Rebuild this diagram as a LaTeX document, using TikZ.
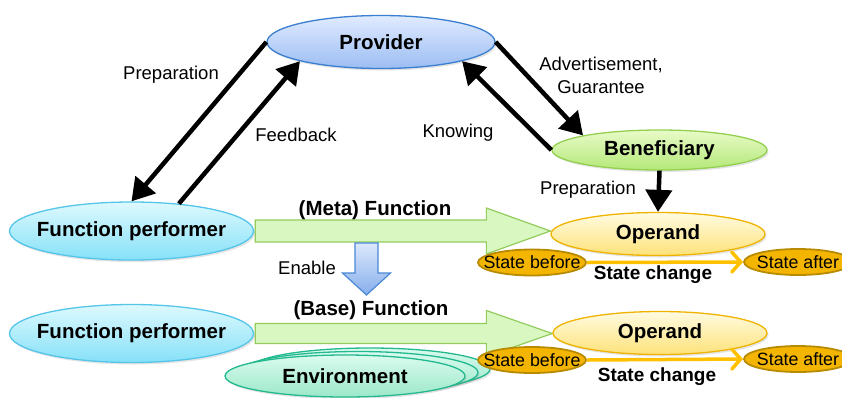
\documentclass[tikz,border=0pt]{standalone}
\usepackage{fontspec}
\setmainfont{Liberation Sans}
\usetikzlibrary{shapes.geometric,arrows.meta,shadows,calc}

\definecolor{provTop}{HTML}{E0EBFF}
\definecolor{provBot}{HTML}{9CBDF2}
\definecolor{provLine}{HTML}{3A7FD0}
\definecolor{benTop}{HTML}{E8FBC8}
\definecolor{benBot}{HTML}{B4E878}
\definecolor{benLine}{HTML}{94D050}
\definecolor{fpTop}{HTML}{DDF9FE}
\definecolor{fpBot}{HTML}{86E1F8}
\definecolor{fpLine}{HTML}{55C5EA}
\definecolor{opTop}{HTML}{FFFBE2}
\definecolor{opBot}{HTML}{FDE27A}
\definecolor{opLine}{HTML}{F0B400}
\definecolor{envTop}{HTML}{DAFBEF}
\definecolor{envBot}{HTML}{9CE8C9}
\definecolor{envLine}{HTML}{23B98F}
\definecolor{stFill}{HTML}{F4B500}
\definecolor{stLine}{HTML}{B88A00}
\definecolor{scArrow}{HTML}{FFC000}
\definecolor{funFill}{HTML}{D9F7C0}
\definecolor{funLine}{HTML}{93CC5C}
\definecolor{enTop}{HTML}{DCE8FC}
\definecolor{enBot}{HTML}{86AEEC}
\definecolor{enLine}{HTML}{4A88D6}

\pgfdeclarelayer{back}
\pgfsetlayers{back,main}

\tikzset{
  blob/.style={ellipse, inner xsep=-45pt, inner ysep=-6pt, line width=1.3pt,
    font=\fontsize{20.5}{24}\selectfont\bfseries,
    drop shadow={shadow xshift=1.5pt, shadow yshift=-2pt, opacity=0.22}},
  provider/.style={blob, draw=provLine, top color=provTop, bottom color=provBot},
  benef/.style={blob, draw=benLine, top color=benTop, bottom color=benBot},
  performer/.style={blob, draw=fpLine, top color=fpTop, bottom color=fpBot},
  operand/.style={blob, draw=opLine, top color=opTop, bottom color=opBot},
  envir/.style={blob, draw=envLine, top color=envTop, bottom color=envBot},
  statenode/.style={ellipse, inner xsep=-45pt, inner ysep=-6pt, line width=1.8pt,
    draw=stLine, fill=stFill, font=\fontsize{17.8}{20}\selectfont,
    minimum width=108pt, minimum height=26pt},
  conn/.style={line width=4.5pt, -{Triangle[length=22pt,width=26pt]}},
  scarrow/.style={draw=scArrow, line width=3.5pt,
    -{Straight Barb[length=9pt,width=20pt,line cap=round]}},
  funarrow/.style={draw=funLine, fill=funFill, line width=1.2pt, line join=miter},
  enarrow/.style={draw=enLine, top color=enTop, bottom color=enBot, line width=1.2pt},
  lbl/.style={font=\fontsize{18.5}{23}\selectfont, inner sep=0pt, align=center},
  blbl/.style={font=\fontsize{20.5}{24}\selectfont\bfseries, inner sep=0pt},
  sclbl/.style={font=\fontsize{19}{23}\selectfont\bfseries, inner sep=0pt}
}

\begin{document}
\begin{tikzpicture}[x=1pt,y=-1pt]
\useasboundingbox (0,0) rectangle (842,397);
\clip (0,0) rectangle (842,397);

% upper level: provider and beneficiary
\node[provider, minimum width=228pt, minimum height=53pt] (prov) at (381,42) {Provider};
\node[benef, minimum width=215pt, minimum height=40pt] (ben) at (659.5,150) {Beneficiary};

% meta level
\node[performer, minimum width=244pt, minimum height=58pt] (fp1) at (131.5,231) {Function performer};
\node[operand, minimum width=214pt, minimum height=43pt] (op1) at (658,234) {Operand};
\node[statenode] (sb1) at (532,262.5) {State before};
\node[statenode] (sa1) at (798,262) {State after};

% base level
\node[performer, minimum width=244pt, minimum height=58pt] (fp2) at (131.5,333.5) {Function performer};
\node[operand, minimum width=214pt, minimum height=43pt] (op2) at (660,333) {Operand};
\node[envir, minimum width=240pt, minimum height=42pt] (env3) at (370,369) {};
\node[envir, minimum width=240pt, minimum height=42pt] (env2) at (358,372.5) {};
\node[envir, minimum width=240pt, minimum height=42pt] (env1) at (345,376) {Environment};
\node[statenode] (sb2) at (532,360) {State before};
\node[statenode] (sa2) at (798,359) {State after};

% block arrows for the two functions, behind the ellipses
\begin{pgfonlayer}{back}
  \coordinate (mt) at (fp1.east);
  \coordinate (mh) at (mt -| op1.west);
  \path[funarrow] ($(mt)+(1,-11)$) -- ($(mh)+(-64,-11)$) -- ($(mh)+(-64,-23)$)
    -- (mh) -- ($(mh)+(-64,23)$) -- ($(mh)+(-64,11)$) -- ($(mt)+(1,11)$) -- cycle;
  \coordinate (bt) at (fp2.east);
  \coordinate (bh) at (bt -| op2.west);
  \path[funarrow] ($(bt)+(1,-10)$) -- ($(bh)+(-66,-10)$) -- ($(bh)+(-66,-23)$)
    -- (bh) -- ($(bh)+(-66,23)$) -- ($(bh)+(-66,10)$) -- ($(bt)+(1,10)$) -- cycle;
\end{pgfonlayer}

% "Enable" block arrow
\coordinate (et) at (366.5,243);
\coordinate (eh) at (366.5,295);
\path[enarrow] ($(et)+(-11.5,0)$) -- ($(et)+(11.5,0)$) -- ($(eh)+(11.5,-22)$)
  -- ($(eh)+(24,-22)$) -- (eh) -- ($(eh)+(-24,-22)$) -- ($(eh)+(-11.5,-22)$) -- cycle;

% connectors
\draw[conn] (prov.west) -- (fp1.north);
\draw[conn] (fp1.30) -- (prov.south west);
\draw[conn] (prov.east) -- (ben.north west);
\draw[conn] (ben.west) -- (prov.south east);
\draw[conn] (ben.south) -- (op1.north);
\draw[scarrow] (sb1.east) -- (sa1.west);
\draw[scarrow] (sb2.east) -- (sa2.west);

% labels
\node[lbl] (lprep1) at (171,75) {Preparation};
\node[lbl] (lfeed) at (296,135) {Feedback};
\node[lbl] (ladv) at (601,75) {Advertisement,\\Guarantee};
\node[lbl] (lknow) at (458,133) {Knowing};
\node[lbl] (lprep2) at (588,190) {Preparation};
\node[blbl] (lmeta) at (375,210) {(Meta) Function};
\node[lbl] (lenable) at (307,268) {Enable};
\node[blbl] (lbase) at (371,310) {(Base) Function};
\node[sclbl] (lsc1) at (653,275) {State change};
\node[sclbl] (lsc2) at (657,377) {State change};
\end{tikzpicture}
\end{document}
